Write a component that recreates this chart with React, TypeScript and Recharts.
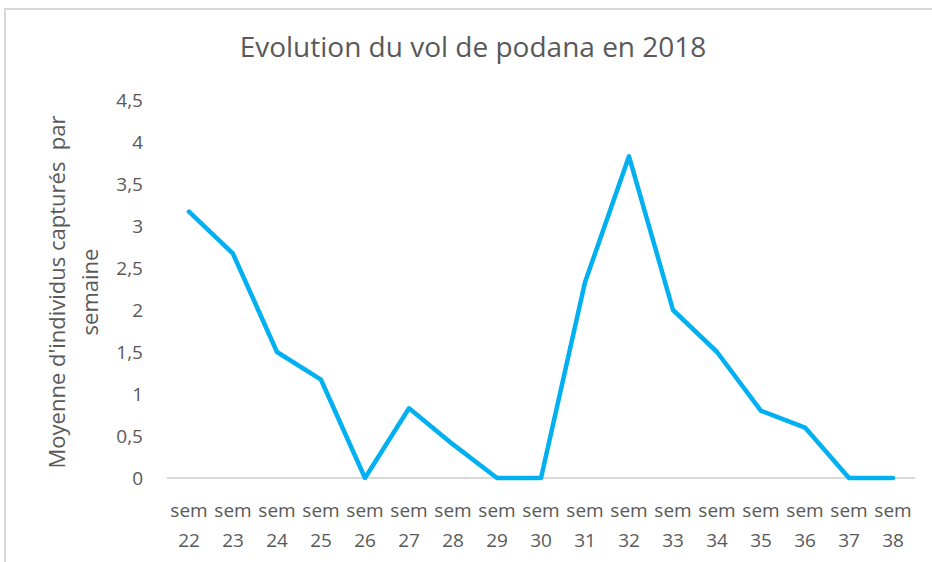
import React from 'react';
import { LineChart, Line, XAxis, YAxis, CartesianGrid } from 'recharts';

const weeks = ['22', '23', '24', '25', '26', '27', '28', '29', '30', '31', '32', '33', '34', '35', '36', '37', '38'];
const moyennes = [3.17, 2.67, 1.5, 1.17, 0, 0.83, 0.4, 0, 0, 2.33, 3.83, 2, 1.5, 0.8, 0.6, 0, 0];
const yTicks = [0, 0.5, 1, 1.5, 2, 2.5, 3, 3.5, 4, 4.5];

const data = weeks.map((w, i) => ({ sem: w, valeur: moyennes[i] }));

const FONT = "'Open Sans', 'Noto Sans', sans-serif";
const GREY = '#595959';

// deux lignes : "sem" puis le numéro
const SemTick = ({ x, y, payload }: any) => (
  <text x={x} y={y} textAnchor="middle" fill={GREY} fontSize={19} fontFamily={FONT}>
    <tspan x={x} dy={31}>sem</tspan>
    <tspan x={x} dy={30}>{payload.value}</tspan>
  </text>
);

const YLabel = () => (
  <text transform="translate(0,292) rotate(-90)" textAnchor="middle" fill={GREY} fontSize={22} fontFamily={FONT}>
    <tspan x={0} y={65}>{'Moyenne d\'individus capturés\u00a0 par'}</tspan>
    <tspan x={0} y={98}>semaine</tspan>
  </text>
);

export default function App() {
  return (
    <div style={{ position: 'absolute', left: 0, top: 0, width: 932, height: 562, background: '#fff', fontFamily: FONT }}>
      <div
        style={{
          position: 'absolute',
          left: 4,
          top: 8,
          right: 0,
          bottom: 0,
          borderTop: '2px solid #d9d9d9',
          borderLeft: '2px solid #d9d9d9',
        }}
      />
      <div
        style={{
          position: 'absolute',
          top: 27,
          left: 0,
          width: 946,
          textAlign: 'center',
          fontSize: 28,
          color: GREY,
        }}
      >
        Evolution du vol de podana en 2018
      </div>
      <div style={{ position: 'absolute', left: 0, top: 0 }}>
        <LineChart width={932} height={562} data={data} margin={{ top: 100, right: 17, left: 107, bottom: 0 }}>
          {/* seule la ligne de base, derrière la courbe */}
          <CartesianGrid vertical={false} horizontalValues={[0]} stroke="#d9d9d9" strokeWidth={2} />
          <XAxis
            dataKey="sem"
            tick={<SemTick />}
            tickLine={false}
            axisLine={false}
            interval={0}
            height={84}
            padding={{ left: 22, right: 22 }}
          />
          <YAxis
            domain={[0, 4.5]}
            ticks={yTicks}
            tickFormatter={(v) => String(v).replace('.', ',')}
            tick={{ fill: GREY, fontSize: 19, fontFamily: FONT }}
            axisLine={false}
            tickLine={false}
            tickMargin={18}
            width={60}
            label={<YLabel />}
          />
          <Line
            type="linear"
            dataKey="valeur"
            stroke="#00b0f0"
            strokeWidth={4.5}
            strokeLinecap="round"
            strokeLinejoin="round"
            dot={false}
            isAnimationActive={false}
          />
        </LineChart>
      </div>
    </div>
  );
}
